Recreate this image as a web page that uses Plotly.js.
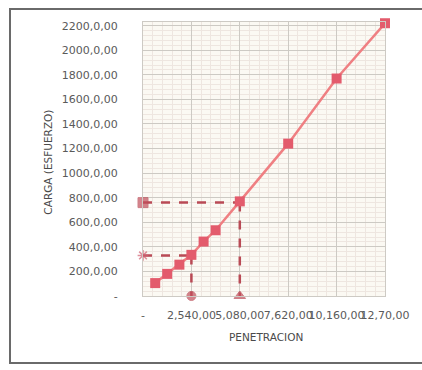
<!DOCTYPE html>
<html>
<head>
<meta charset="utf-8">
<script src="https://cdn.plot.ly/plotly-3.0.1.min.js"></script>
<style>
  html, body { margin: 0; padding: 0; background: #ffffff; }
  #chart { position: absolute; left: 0; top: 0; width: 422px; height: 370px; }
  #frame { position: absolute; left: 9px; top: 8px; width: 425px; height: 352px;
           border: 2px solid #6a6a6a; pointer-events: none; }
</style>
</head>
<body>
<div id="chart"></div>
<div id="frame"></div>
<script>
// Data
const penetration = [0.64, 1.27, 1.91, 2.54, 3.18, 3.81, 5.08, 7.62, 10.16, 12.70];
const load = [105, 180, 255, 335, 443, 535, 770, 1240, 1770, 2220];

// Reference (dashed) readings
const refPen254 = [0, 2.54];
const refLoad254 = 330;
const refPen508 = [0, 5.08];
const refLoad508 = 760;

// Tick labels
const xTickVals = [0, 2.54, 5.08, 7.62, 10.16, 12.70];
const xTickText = ['-', '2,540,00', '5,080,00', '7,620,00', '10,160,00', '12,70,00'];
const yTickVals = [0, 200, 400, 600, 800, 1000, 1200, 1400, 1600, 1800, 2000, 2200];
const yTickText = ['-', '200,0,00', '400,0,00', '600,0,00', '800,0,00', '1000,0,00', '1200,0,00',
                   '1400,0,00', '1600,0,00', '1800,0,00', '2000,0,00', '2200,0,00'];

const dashColor = '#b94a55';
const traces = [
  // horizontal dashed at 5.08
  { x: refPen508, y: [refLoad508, refLoad508], mode: 'lines+markers', cliponaxis: false,
    line: { color: dashColor, width: 2.5, dash: 'dash' },
    marker: { symbol: 'square', size: [10, 0], color: '#c24f5c' }, hoverinfo: 'skip' },
  // vertical dashed at 5.08
  { x: [refPen508[1], refPen508[1]], y: [refLoad508, 0], mode: 'lines+markers', cliponaxis: false,
    line: { color: dashColor, width: 2.5, dash: 'dash' },
    marker: { symbol: 'triangle-up', size: [0, 10], color: '#c24f5c' }, hoverinfo: 'skip' },
  // horizontal dashed at 2.54
  { x: refPen254, y: [refLoad254, refLoad254], mode: 'lines+markers', cliponaxis: false,
    line: { color: dashColor, width: 2.5, dash: 'dash' },
    marker: { symbol: 'asterisk-open', size: [9, 0], color: '#d06070', line: { width: 1.5, color: '#d06070' } },
    hoverinfo: 'skip' },
  // vertical dashed at 2.54
  { x: [refPen254[1], refPen254[1]], y: [refLoad254, 0], mode: 'lines+markers', cliponaxis: false,
    line: { color: dashColor, width: 2.5, dash: 'dash' },
    marker: { symbol: 'circle', size: [0, 9], color: '#c24f5c' }, hoverinfo: 'skip' },
  // main curve
  { x: penetration, y: load, mode: 'lines+markers', cliponaxis: false,
    line: { color: '#ef7f82', width: 2.5 },
    marker: { symbol: 'square', size: 10, color: '#e35b6c' } }
];

const layout = {
  width: 422, height: 370,
  margin: { l: 143, r: 37, t: 22, b: 74 },
  paper_bgcolor: 'rgba(0,0,0,0)',
  plot_bgcolor: '#fbf9f3',
  showlegend: false,
  font: { family: 'DejaVu Sans', color: '#555555', size: 11 },
  xaxis: {
    range: [0, 12.70], tickmode: 'array', tickvals: xTickVals, ticktext: xTickText,
    tickangle: 0, ticks: 'outside', ticklen: 9, tickcolor: 'rgba(0,0,0,0)',
    tickfont: { family: 'DejaVu Sans', size: 11, color: '#5a5a5a' },
    showgrid: true, gridcolor: '#cdcac4', gridwidth: 1, zeroline: false,
    showline: true, linecolor: '#cdcac4', mirror: true,
    minor: { dtick: 0.508, showgrid: true, gridcolor: '#eee6e0', gridwidth: 1 }
  },
  yaxis: {
    range: [0, 2230], tickmode: 'array', tickvals: yTickVals, ticktext: yTickText,
    ticks: 'outside', ticklen: 22, tickcolor: 'rgba(0,0,0,0)',
    tickfont: { family: 'DejaVu Sans', size: 11, color: '#5a5a5a' },
    showgrid: true, gridcolor: '#cdcac4', gridwidth: 1, zeroline: false,
    showline: true, linecolor: '#cdcac4', mirror: true,
    minor: { dtick: 40, showgrid: true, gridcolor: '#eee6e0', gridwidth: 1 }
  },
  annotations: [
    { text: 'CARGA (ESFUERZO)', xref: 'paper', yref: 'paper', x: -0.393, y: 0.49,
      textangle: -90, showarrow: false, xanchor: 'center', yanchor: 'middle',
      font: { family: 'DejaVu Sans', size: 10.5, color: '#4a4a4a' } },
    { text: 'PENETRACION', xref: 'paper', yref: 'paper', x: 0.51, y: -0.15,
      showarrow: false, xanchor: 'center', yanchor: 'middle',
      font: { family: 'DejaVu Sans', size: 10.5, color: '#4a4a4a' } }
  ]
};

Plotly.newPlot('chart', traces, layout, { displayModeBar: false, staticPlot: true });
</script>
</body>
</html>
